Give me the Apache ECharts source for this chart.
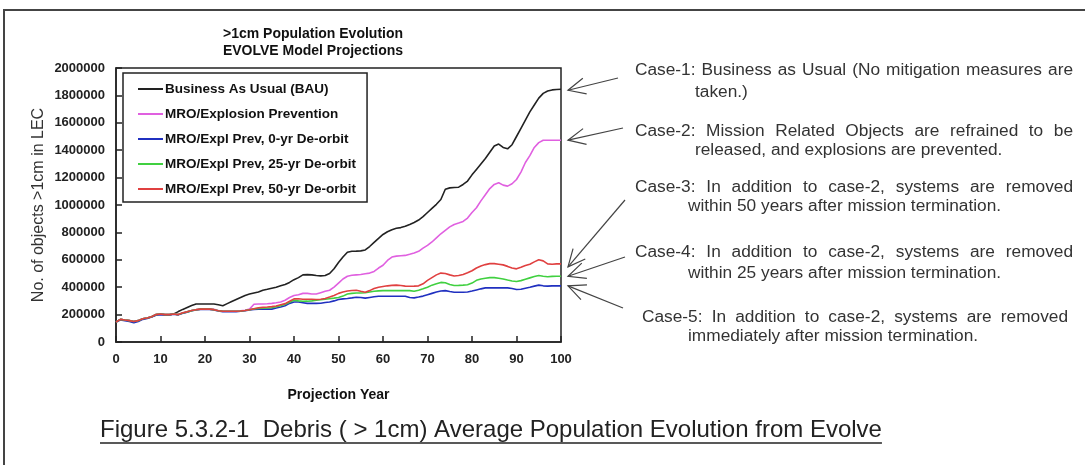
<!DOCTYPE html>
<html>
<head>
<meta charset="utf-8">
<script src="https://cdn.jsdelivr.net/npm/echarts@6/dist/echarts.min.js"></script>
<style>
html,body{margin:0;padding:0;background:#fff;}
#c{width:1085px;height:465px;}
</style>
</head>
<body>
<div id="c"></div>
<script>
const seriesNames = ['Business As Usual (BAU)', 'MRO/Explosion Prevention', 'MRO/Expl Prev, 0-yr De-orbit', 'MRO/Expl Prev, 25-yr De-orbit', 'MRO/Expl Prev, 50-yr De-orbit'];
const yTicks = [0, 200000, 400000, 600000, 800000, 1000000, 1200000, 1400000, 1600000, 1800000, 2000000];
const xTicks = [0, 10, 20, 30, 40, 50, 60, 70, 80, 90, 100];

const bau = [146000,165000,160000,156000,150000,156000,170000,175000,185000,200000,
204000,200000,200000,205000,222000,238000,252000,266000,277000,277000,
277000,277000,277000,272000,265000,280000,295000,310000,325000,340000,
350000,358000,365000,378000,385000,393000,400000,410000,420000,435000,
455000,470000,490000,492000,490000,485000,483000,485000,500000,535000,
580000,620000,655000,662000,663000,665000,672000,697000,727000,757000,
785000,805000,820000,830000,835000,845000,858000,872000,890000,915000,
945000,975000,1005000,1040000,1115000,1125000,1128000,1130000,1150000,1175000,
1220000,1260000,1300000,1340000,1385000,1430000,1445000,1420000,1410000,1440000,
1500000,1560000,1620000,1680000,1730000,1780000,1815000,1832000,1840000,1843000,
1845000];

const mro = [146000,165000,160000,156000,150000,156000,170000,175000,185000,200000,
204000,200000,200000,204000,200000,212000,220000,230000,236000,242000,
243000,243000,238000,230000,225000,224000,224000,224000,228000,232000,
240000,275000,277000,277000,279000,282000,286000,292000,305000,325000,
340000,345000,355000,355000,350000,350000,360000,370000,378000,400000,
430000,460000,480000,487000,490000,493000,498000,503000,515000,540000,
560000,595000,620000,627000,630000,632000,640000,650000,662000,685000,
705000,730000,760000,790000,815000,840000,858000,868000,880000,905000,
945000,980000,1030000,1075000,1120000,1150000,1162000,1145000,1138000,1155000,
1186000,1240000,1310000,1360000,1420000,1455000,1473000,1473000,1473000,1473000,
1473000];

const deorbit0 = [146000,160000,155000,150000,140000,150000,165000,172000,182000,196000,
200000,198000,198000,202000,198000,210000,218000,228000,234000,238000,
238000,238000,234000,226000,222000,222000,222000,222000,224000,228000,
234000,238000,240000,240000,240000,240000,248000,255000,265000,282000,
292000,292000,287000,282000,282000,282000,283000,288000,292000,300000,
310000,315000,318000,322000,327000,325000,320000,325000,330000,334000,
334000,334000,334000,334000,334000,334000,325000,322000,328000,335000,
345000,355000,365000,372000,375000,368000,363000,363000,363000,365000,
372000,380000,388000,395000,395000,395000,395000,395000,395000,390000,
383000,385000,393000,400000,408000,415000,410000,408000,410000,410000,
410000];

const deorbit25 = [146000,165000,160000,156000,150000,156000,170000,175000,185000,200000,
204000,200000,200000,204000,200000,212000,220000,229000,235000,240000,
240000,240000,236000,228000,224000,224000,224000,224000,226000,230000,
236000,242000,244000,246000,248000,250000,258000,265000,275000,290000,
305000,300000,297000,298000,300000,305000,308000,312000,316000,320000,
325000,335000,350000,355000,358000,358000,360000,365000,370000,373000,
375000,375000,375000,375000,375000,375000,375000,370000,378000,388000,
400000,415000,425000,435000,432000,420000,412000,413000,415000,418000,
430000,450000,460000,465000,470000,470000,465000,460000,452000,445000,
442000,448000,458000,468000,478000,485000,480000,476000,479000,480000,
480000];

const deorbit50 = [146000,165000,160000,156000,150000,156000,170000,175000,185000,200000,
204000,200000,200000,204000,200000,213000,220000,230000,236000,240000,
240000,240000,236000,228000,224000,224000,224000,224000,226000,230000,
236000,243000,250000,253000,255000,258000,263000,272000,280000,297000,
315000,316000,312000,312000,312000,310000,312000,318000,328000,340000,
355000,365000,372000,376000,378000,370000,363000,375000,390000,400000,
405000,410000,413000,415000,412000,408000,407000,408000,410000,425000,
450000,470000,490000,503000,500000,490000,482000,485000,493000,505000,
520000,540000,555000,565000,572000,572000,568000,563000,552000,540000,
534000,545000,558000,567000,585000,600000,592000,570000,568000,570000,
570000];

const caseTexts = [
  ['Case-1: Business as Usual (No mitigation measures are', 'taken.)'],
  ['Case-2: Mission Related Objects are refrained to be', 'released, and explosions are prevented.'],
  ['Case-3: In addition to case-2, systems are removed', 'within 50 years after mission termination.'],
  ['Case-4: In addition to case-2, systems are removed', 'within 25 years after mission termination.'],
  ['Case-5: In addition to case-2, systems are removed', 'immediately after mission termination.']
];
const titleLines = ['>1cm Population Evolution', 'EVOLVE Model Projections'];
const captionText = 'Figure 5.3.2-1  Debris ( > 1cm) Average Population Evolution from Evolve';

const allSeries = [bau, mro, deorbit0, deorbit25, deorbit50];
const colors = ['#222222', '#e060e0', '#2030c0', '#40d040', '#e04040'];

const SANS = '"Liberation Sans", Arial, sans-serif';
const ANN_FONT = '17.3px ' + SANS;

const measureCtx = document.createElement('canvas').getContext('2d');
function textWidth(t, font) { measureCtx.font = font; return measureCtx.measureText(t).width; }

const chart = echarts.init(document.getElementById('c'), null, {renderer: 'canvas'});

const option = {
  animation: false,
  backgroundColor: '#fff',
  grid: {left: 116, right: 524, top: 68, bottom: 123, show: true, borderColor: '#222', borderWidth: 1.5, containLabel: false},
  xAxis: {
    type: 'value', min: 0, max: 100, interval: 10,
    name: 'Projection Year', nameLocation: 'middle', nameGap: 46,
    nameTextStyle: {fontFamily: SANS, fontWeight: 'bold', fontSize: 14, color: '#111'},
    axisLine: {lineStyle: {color: '#222', width: 1.5}},
    axisTick: {inside: true, length: 6, lineStyle: {color: '#222', width: 1.5}},
    axisLabel: {fontFamily: SANS, fontWeight: 'bold', fontSize: 13, color: '#222', margin: 11,
      formatter: v => xTicks.includes(v) ? String(v) : ''},
    splitLine: {show: false}
  },
  yAxis: {
    type: 'value', min: 0, max: 2000000, interval: 200000,
    name: 'No. of objects >1cm in LEC', nameLocation: 'middle', nameGap: 69, nameRotate: 90,
    nameTextStyle: {fontFamily: SANS, fontSize: 16, color: '#333'},
    axisLine: {show: true, lineStyle: {color: '#222', width: 1.5}},
    axisTick: {show: true, inside: true, length: 6, lineStyle: {color: '#222', width: 1.5}},
    axisLabel: {fontFamily: SANS, fontWeight: 'bold', fontSize: 13, color: '#222', margin: 11,
      formatter: v => yTicks.includes(v) ? String(v) : ''},
    splitLine: {show: false}
  },
  legend: {
    orient: 'vertical', left: 123, top: 73,
    backgroundColor: '#fff', borderColor: '#222', borderWidth: 1.5,
    padding: [8, 11, 5, 15], itemGap: 9, itemWidth: 25, itemHeight: 2, icon: 'rect',
    textStyle: {fontFamily: SANS, fontWeight: 'bold', fontSize: 13.5, color: '#111', lineHeight: 16, padding: [0, 0, 0, -3]},
    data: seriesNames
  },
  series: allSeries.map((arr, i) => ({
    name: seriesNames[i], type: 'line', showSymbol: false, symbol: 'none',
    color: colors[i], lineStyle: {width: 1.6, color: colors[i]},
    data: arr.map((v, k) => [k, v]), z: 2 + i
  }))
};
chart.setOption(option);

function arrowEls(sx, sy, tx, ty) {
  const ang = Math.atan2(sy - ty, sx - tx);
  const L = 19, spread = 25 * Math.PI / 180;
  const a1 = [tx + L * Math.cos(ang - spread), ty + L * Math.sin(ang - spread)];
  const a2 = [tx + L * Math.cos(ang + spread), ty + L * Math.sin(ang + spread)];
  const st = {stroke: '#444', lineWidth: 1.2, fill: 'none'};
  return [
    {type: 'line', shape: {x1: sx, y1: sy, x2: tx, y2: ty}, style: st, silent: true},
    {type: 'polyline', shape: {points: [a1, [tx, ty], a2]}, style: st, silent: true}
  ];
}

// justified line: spread words between x0 and x1
function justified(text, x0, x1, y) {
  const words = text.split(' ');
  const widths = words.map(w => textWidth(w, ANN_FONT));
  const total = widths.reduce((a, b) => a + b, 0);
  const gap = (x1 - x0 - total) / (words.length - 1);
  const els = [];
  let x = x0;
  words.forEach((w, i) => {
    els.push({type: 'text', x: x, y: y, style: {text: w, fill: '#333', font: ANN_FONT, textVerticalAlign: 'middle'}, silent: true});
    x += widths[i] + gap;
  });
  return els;
}

const plotRight = chart.convertToPixel({gridIndex: 0}, [100, 0])[0];
const lastY = allSeries.map(a => chart.convertToPixel({gridIndex: 0}, [100, a[a.length - 1]])[1]);
// tips: case1 -> BAU, case2 -> MRO, case3 -> 50yr, case4 -> 25yr, case5 -> 0yr
const tipY = [lastY[0] + 1, lastY[1], lastY[4] + 3, lastY[3], lastY[2]];
const starts = [[618, 78], [623, 128], [625, 200], [625, 257], [623, 308]];
const textY = [[70, 92], [131, 150], [187, 206], [252, 273], [317, 336]];
const textX = [[635, 1073, 695], [635, 1073, 695], [635, 1073, 688], [635, 1073, 688], [642, 1068, 688]];

const graphics = [
  {type: 'rect', shape: {x: 4, y: 10, width: 1100, height: 480}, style: {fill: 'none', stroke: '#444', lineWidth: 2}, silent: true, z: 100},
  {type: 'text', x: 313, y: 34, style: {text: titleLines[0], fill: '#111', font: 'bold 14px ' + SANS, textAlign: 'center', textVerticalAlign: 'middle'}},
  {type: 'text', x: 313, y: 51, style: {text: titleLines[1], fill: '#111', font: 'bold 14px ' + SANS, textAlign: 'center', textVerticalAlign: 'middle'}},
  {type: 'text', x: 100, y: 430, style: {text: captionText, fill: '#222', font: '24px ' + SANS, textAlign: 'left', textVerticalAlign: 'middle'}}
];
caseTexts.forEach((lines, i) => {
  justified(lines[0], textX[i][0], textX[i][1], textY[i][0]).forEach(e => graphics.push(e));
  graphics.push({type: 'text', x: textX[i][2], y: textY[i][1], style: {text: lines[1], fill: '#333', font: ANN_FONT, textVerticalAlign: 'middle'}});
  arrowEls(starts[i][0], starts[i][1], plotRight + 7, tipY[i]).forEach(e => graphics.push(e));
});
const capW = textWidth(captionText, '24px ' + SANS);
graphics.push({type: 'line', shape: {x1: 100, y1: 443, x2: 100 + capW, y2: 443}, style: {stroke: '#222', lineWidth: 1.3}});
chart.setOption({graphic: graphics});
</script>
</body>
</html>
